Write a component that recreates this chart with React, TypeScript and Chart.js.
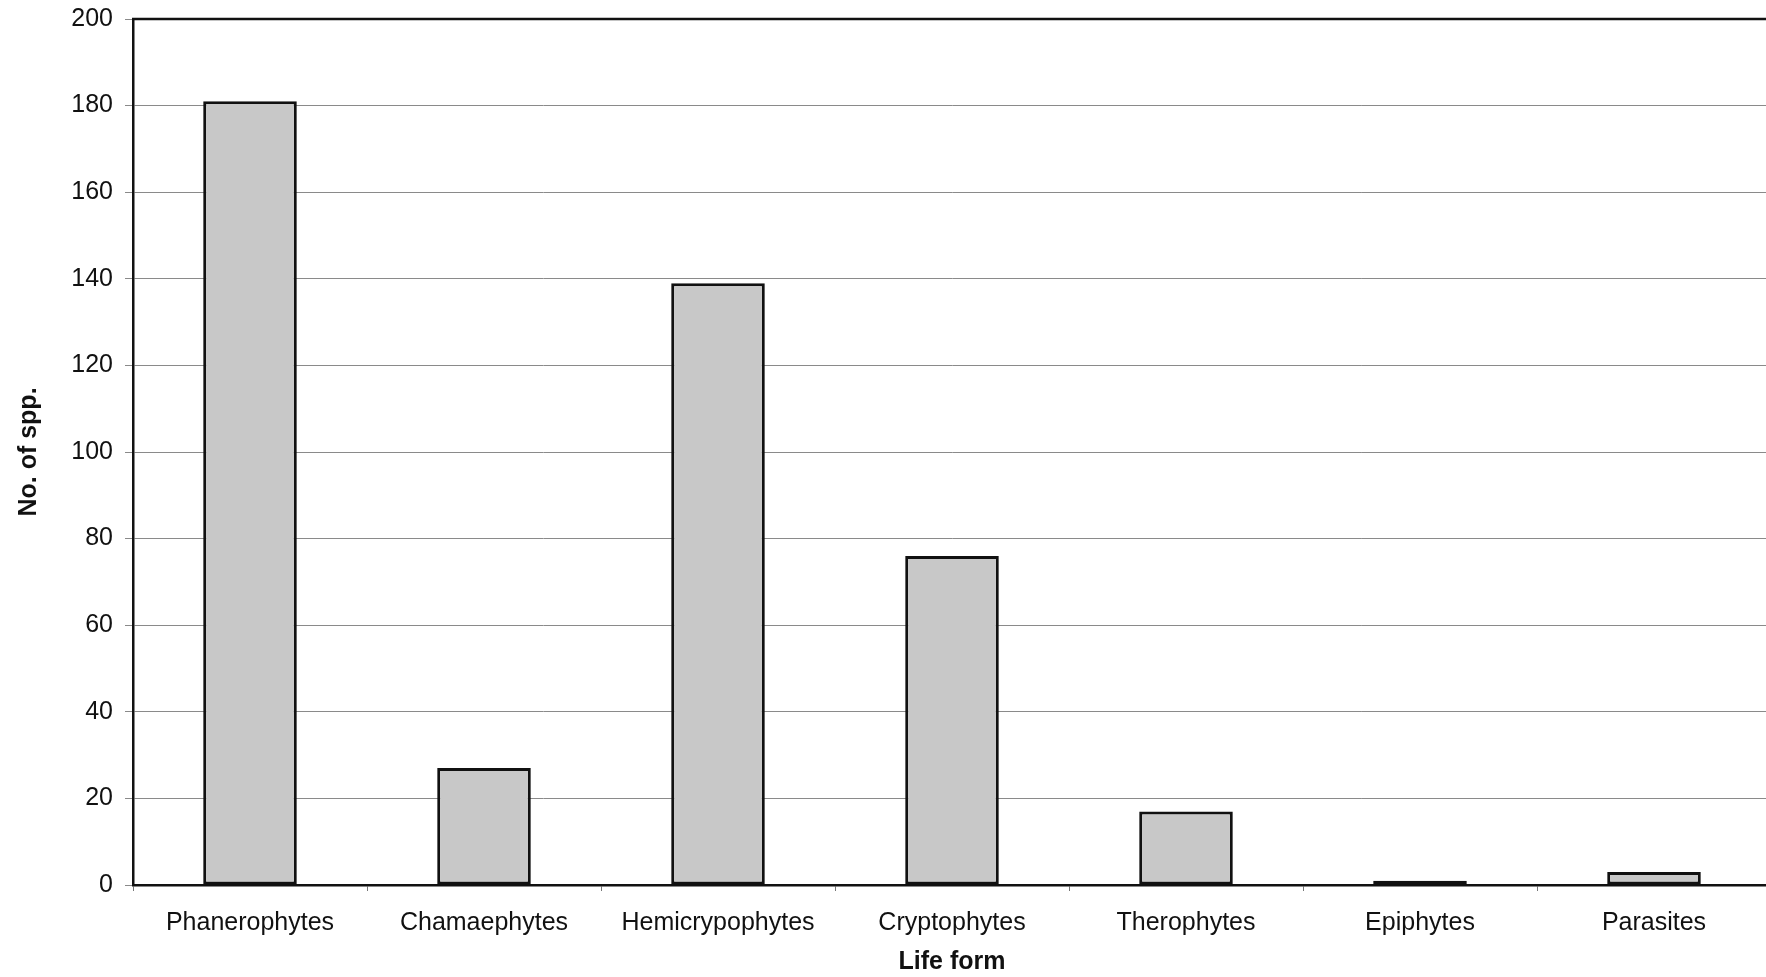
import React, { useEffect, useRef } from "react";
import { Chart, registerables } from "chart.js";

Chart.register(...registerables);

const categories = [
  "Phanerophytes",
  "Chamaephytes",
  "Hemicrypophytes",
  "Cryptophytes",
  "Therophytes",
  "Epiphytes",
  "Parasites",
];
const speciesCounts = [181, 27, 139, 76, 17, 1, 3];
const yTicks = [0, 20, 40, 60, 80, 100, 120, 140, 160, 180, 200];

const FONT = "'Liberation Sans', Arial, Helvetica, sans-serif";

const topBorder = {
  id: "topBorder",
  afterDraw(chart: any) {
    const { ctx, chartArea } = chart;
    ctx.save();
    ctx.strokeStyle = "#111";
    ctx.lineWidth = 2.5;
    ctx.beginPath();
    ctx.moveTo(chartArea.left - 1, chartArea.top);
    ctx.lineTo(chartArea.right, chartArea.top);
    ctx.stroke();
    ctx.restore();
  },
};

export default function App() {
  const ref = useRef<HTMLCanvasElement | null>(null);
  useEffect(() => {
    if (!ref.current) return;
    const chart = new Chart(ref.current, {
      type: "bar",
      data: {
        labels: categories,
        datasets: [
          {
            label: "No. of spp.",
            data: speciesCounts,
            backgroundColor: "#c8c8c8",
            borderColor: "#111",
            borderWidth: 3,
            borderSkipped: false,
            categoryPercentage: 0.8,
            barPercentage: 0.5,
          },
        ],
      },
      options: {
        responsive: false,
        animation: false,
        layout: { padding: { top: 19, right: 0, left: 0, bottom: 0 } },
        plugins: {
          legend: { display: false },
          tooltip: { enabled: false },
        },
        scales: {
          x: {
            afterFit(scale: any) {
              scale.height = 92;
              scale.paddingLeft = 0;
              scale.paddingRight = 0;
            },
            grid: {
              display: true,
              drawOnChartArea: false,
              drawTicks: true,
              tickLength: 6,
              color: "#777",
              lineWidth: 1,
            },
            border: { display: true, color: "#111", width: 2.5 },
            ticks: {
              color: "#111",
              font: { family: FONT, size: 25 },
              padding: 17,
              maxRotation: 0,
              autoSkip: false,
            },
            title: {
              display: true,
              text: "Life form",
              color: "#111",
              font: { family: FONT, size: 25, weight: "bold" },
              padding: { top: 0, bottom: 0 },
            },
          },
          y: {
            min: 0,
            max: 200,
            afterFit(scale: any) {
              scale.width = 133;
              scale.paddingTop = 0;
              scale.paddingBottom = 0;
            },
            afterBuildTicks(scale: any) {
              scale.ticks = yTicks.map((v) => ({ value: v }));
            },
            grid: {
              color: "#8a8a8a",
              lineWidth: 1,
              tickLength: 8,
              drawTicks: true,
            },
            border: { display: true, color: "#111", width: 2.5 },
            ticks: {
              color: "#111",
              font: { family: FONT, size: 25 },
              padding: 12,
            },
            title: {
              display: true,
              text: "No. of spp.",
              color: "#111",
              font: { family: FONT, size: 25, weight: "bold" },
              padding: { top: 14, bottom: 0 },
            },
          },
        },
      },
      plugins: [topBorder],
    });
    return () => chart.destroy();
  }, []);

  return (
    <div
      style={{
        position: "fixed",
        left: 0,
        top: 0,
        width: 1766,
        height: 977,
        overflow: "hidden",
        background: "#fff",
      }}
    >
      <canvas
        ref={ref}
        width={1771}
        height={977}
        style={{ display: "block", width: 1771, height: 977 }}
      />
    </div>
  );
}
